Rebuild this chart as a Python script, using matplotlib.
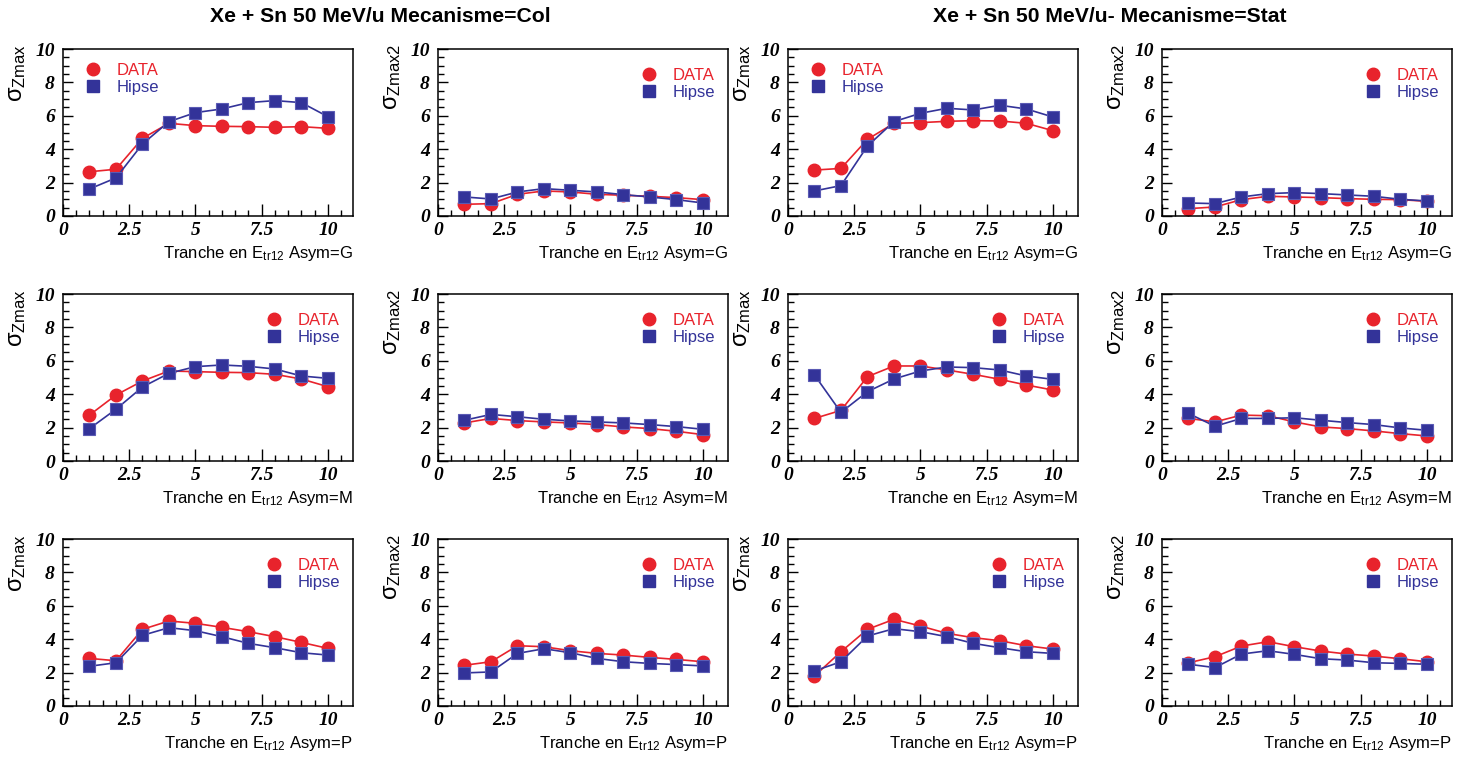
import matplotlib
matplotlib.use("Agg")
import matplotlib.pyplot as plt
from matplotlib.lines import Line2D
from matplotlib.ticker import MultipleLocator

plt.rcParams['font.family'] = 'Liberation Sans'
plt.rcParams['mathtext.fontset'] = 'custom'
plt.rcParams['mathtext.rm'] = 'Liberation Sans'
plt.rcParams['mathtext.it'] = 'Liberation Sans'
plt.rcParams['mathtext.bf'] = 'Liberation Sans:bold'

# tranche index (x axis)
tranche = [1, 2, 3, 4, 5, 6, 7, 8, 9, 10]

# Mecanisme=Col
col_g_zmax_data = [2.65, 2.8, 4.65, 5.55, 5.41, 5.37, 5.35, 5.31, 5.35, 5.25]
col_g_zmax_hipse = [1.62, 2.28, 4.31, 5.65, 6.19, 6.41, 6.79, 6.91, 6.79, 5.95]
col_g_zmax2_data = [0.7, 0.74, 1.3, 1.5, 1.44, 1.3, 1.24, 1.18, 1.1, 0.98]
col_g_zmax2_hipse = [1.14, 1.02, 1.44, 1.64, 1.54, 1.44, 1.28, 1.14, 0.98, 0.78]
col_m_zmax_data = [2.75, 3.95, 4.79, 5.39, 5.35, 5.31, 5.29, 5.19, 4.91, 4.45]
col_m_zmax_hipse = [1.94, 3.1, 4.43, 5.25, 5.65, 5.75, 5.67, 5.51, 5.09, 4.95]
col_m_zmax2_data = [2.28, 2.55, 2.42, 2.34, 2.28, 2.18, 2.04, 1.94, 1.78, 1.58]
col_m_zmax2_hipse = [2.44, 2.79, 2.65, 2.5, 2.4, 2.34, 2.28, 2.18, 2.06, 1.9]
col_p_zmax_data = [2.85, 2.71, 4.59, 5.09, 4.95, 4.71, 4.45, 4.15, 3.81, 3.45]
col_p_zmax_hipse = [2.38, 2.59, 4.23, 4.69, 4.51, 4.15, 3.75, 3.49, 3.19, 3.05]
col_p_zmax2_data = [2.44, 2.65, 3.61, 3.55, 3.31, 3.15, 3.05, 2.91, 2.79, 2.65]
col_p_zmax2_hipse = [1.98, 2.04, 3.15, 3.43, 3.19, 2.85, 2.65, 2.55, 2.48, 2.4]

# Mecanisme=Stat
stat_g_zmax_data = [2.75, 2.85, 4.59, 5.55, 5.59, 5.67, 5.71, 5.69, 5.55, 5.11]
stat_g_zmax_hipse = [1.5, 1.82, 4.19, 5.65, 6.15, 6.45, 6.35, 6.63, 6.41, 5.93]
stat_g_zmax2_data = [0.44, 0.54, 0.98, 1.18, 1.14, 1.1, 1.04, 1.0, 0.98, 0.88]
stat_g_zmax2_hipse = [0.78, 0.74, 1.14, 1.34, 1.4, 1.34, 1.26, 1.18, 1.0, 0.9]
stat_m_zmax_data = [2.55, 3.03, 5.05, 5.69, 5.69, 5.45, 5.19, 4.89, 4.55, 4.25]
stat_m_zmax_hipse = [5.15, 2.91, 4.15, 4.91, 5.39, 5.63, 5.59, 5.45, 5.09, 4.89]
stat_m_zmax2_data = [2.55, 2.34, 2.75, 2.71, 2.34, 2.04, 1.94, 1.8, 1.64, 1.5]
stat_m_zmax2_hipse = [2.85, 2.08, 2.55, 2.55, 2.59, 2.44, 2.3, 2.18, 1.98, 1.84]
stat_p_zmax_data = [1.8, 3.25, 4.59, 5.19, 4.79, 4.35, 4.09, 3.91, 3.61, 3.41]
stat_p_zmax_hipse = [2.1, 2.65, 4.19, 4.63, 4.45, 4.15, 3.75, 3.49, 3.25, 3.15]
stat_p_zmax2_data = [2.59, 2.95, 3.59, 3.85, 3.55, 3.29, 3.11, 2.99, 2.83, 2.65]
stat_p_zmax2_hipse = [2.5, 2.3, 3.11, 3.31, 3.09, 2.83, 2.75, 2.59, 2.55, 2.5]

asym_labels = ['G', 'M', 'P']
ylabels = [r'$\sigma_{Zmax}$', r'$\sigma_{Zmax2}$']
titles = ['Xe + Sn 50 MeV/u Mecanisme=Col', 'Xe + Sn 50 MeV/u- Mecanisme=Stat']
xtick_values = [0, 2.5, 5, 7.5, 10]
xtick_labels = ['0', '2.5', '5', '7.5', '10']
ytick_values = [0, 2, 4, 6, 8, 10]
ytick_labels = ['0', '2', '4', '6', '8', '10']

# rows = asym, columns = (Col zmax, Col zmax2, Stat zmax, Stat zmax2)
grid = [
    [(col_g_zmax_data, col_g_zmax_hipse), (col_g_zmax2_data, col_g_zmax2_hipse),
     (stat_g_zmax_data, stat_g_zmax_hipse), (stat_g_zmax2_data, stat_g_zmax2_hipse)],
    [(col_m_zmax_data, col_m_zmax_hipse), (col_m_zmax2_data, col_m_zmax2_hipse),
     (stat_m_zmax_data, stat_m_zmax_hipse), (stat_m_zmax2_data, stat_m_zmax2_hipse)],
    [(col_p_zmax_data, col_p_zmax_hipse), (col_p_zmax2_data, col_p_zmax2_hipse),
     (stat_p_zmax_data, stat_p_zmax_hipse), (stat_p_zmax2_data, stat_p_zmax2_hipse)],
]

RED = '#e8232c'
BLUE = '#333399'
TICKFONT = dict(family='Liberation Serif', weight='bold', style='italic', size=14)

W, H = 1471, 760
fig = plt.figure(figsize=(W / 100, H / 100), dpi=100)

lefts = [63, 438, 788, 1162]
tops = [49, 294, 539]
aw, ah = 290, 167

for r, top in enumerate(tops):
    for c, left in enumerate(lefts):
        data, hipse = grid[r][c]
        ax = fig.add_axes([left / W, 1 - (top + ah) / H, aw / W, ah / H])
        ax.plot(tranche, data, '-o', color=RED, lw=1.2, ms=9, mec=RED)
        ax.plot(tranche, hipse, '-s', color=BLUE, lw=1.2, ms=9, mec='#5a5ab4', mew=0.8)

        ax.set_xlim(0, 10.95)
        ax.set_ylim(0, 10)
        ax.set_xticks(xtick_values, labels=xtick_labels, **TICKFONT)
        ax.set_yticks(ytick_values, labels=ytick_labels, **TICKFONT)
        ax.xaxis.set_minor_locator(MultipleLocator(0.5))
        ax.yaxis.set_minor_locator(MultipleLocator(0.5))
        ax.tick_params(which='both', direction='in', top=False, right=False, width=1)
        ax.tick_params(axis='x', which='major', length=9, pad=4)
        ax.tick_params(axis='y', which='major', length=7, pad=6)
        ax.tick_params(which='minor', length=4)
        for sp in ax.spines.values():
            sp.set_linewidth(1.1)

        ax.text(-46 / aw, 1 + 5 / ah, ylabels[c % 2], rotation=90, ha='center',
                va='top', fontsize=17, transform=ax.transAxes)
        ax.text(1.0, -42 / ah, r'Tranche en E$_{\mathrm{tr12}}$ Asym=' + asym_labels[r],
                ha='right', va='baseline', fontsize=12, transform=ax.transAxes)

        handles = [Line2D([], [], ls='none', marker='o', color=RED, ms=9),
                   Line2D([], [], ls='none', marker='s', color=BLUE, ms=9)]
        if r == 0 and c % 2 == 0:
            anchor = (0.075, 0.917)
        else:
            anchor = (0.70, 0.887)
        ax.legend(handles, ['DATA', 'Hipse'], loc='upper left', bbox_to_anchor=anchor,
                  frameon=False, fontsize=12, labelcolor=[RED, BLUE],
                  handlelength=1.0, handletextpad=0.9, labelspacing=0.12,
                  borderpad=0, borderaxespad=0)

fig.text(380 / W, 1 - 17 / H, titles[0], ha='center', va='center',
         fontsize=15.2, weight='bold')
fig.text(1110 / W, 1 - 17 / H, titles[1], ha='center', va='center',
         fontsize=15.2, weight='bold')

fig.savefig('out.png', dpi=100, facecolor='white')
